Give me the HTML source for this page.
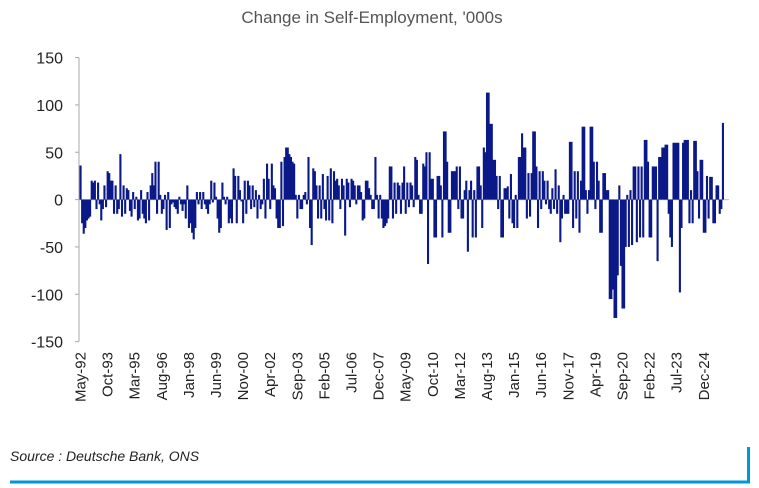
<!DOCTYPE html>
<html><head><meta charset="utf-8"><style>
html,body{margin:0;padding:0;background:#fff;}
body{width:759px;height:488px;overflow:hidden;position:relative;font-family:"Liberation Sans",Arial,sans-serif;}
</style></head><body>
<svg id="chart" width="759" height="488" xmlns="http://www.w3.org/2000/svg" style="position:absolute;left:0;top:0">
<text x="372" y="23" text-anchor="middle" font-family="Liberation Sans, sans-serif" font-size="17" fill="#555">Change in Self-Employment, '000s</text>
<g id="yaxis"></g>
<g id="bars"></g>
<g id="xaxis"></g>
<text x="10" y="461" font-family="Liberation Sans, sans-serif" font-size="14" font-style="italic" fill="#222">Source : Deutsche Bank, ONS</text>
<line x1="10" y1="482" x2="750" y2="482" stroke="#0096db" stroke-width="3"/>
<line x1="748.5" y1="447" x2="748.5" y2="483" stroke="#0096db" stroke-width="3"/>
</svg>
<script>
const values = [
36,-25,-36,-30,-22, -20,-18,20,18,20, -10,18,-5,-22,-10, 15,-8,30,28,20, 20,-15,15,-15,-10,
48,-18,15,-15,12, 10,-12,-18,8,-10, 3,-22,-20,10,-15, -20,-25,8,-22,15, 28,15,40,-15,40,
5,-15,-10,5,-32, 8,-30,-5,-3,-8, -10,-15,3,-5,-12, -5,-20,15,-30,-25, -35,-42,-30,8,-5,
8,-10,8,-5,-10, -15,-5,20,-3,18, 3,-20,-35,-30,18, 3,-5,3,-25,-20, -25,33,25,-25,25,
10,-2,-25,20,-15, 20,15,-10,15,-8, 10,-20,5,-10,-5, 22,-20,38,22,-10, 38,15,12,-20,-30,
-30,40,-28,45,55, 55,48,45,40,38, 5,-20,5,-10,-10, 5,8,-5,45,-30, -48,33,30,15,-20,
15,-20,27,-10,-22, 25,-22,33,-25,30, 20,22,15,-10,22, 15,-38,22,18,-8, 22,20,15,-5,15,
15,8,-22,-20,20, 20,12,5,-10,-10, 45,5,-20,5,-20, -30,-28,-25,-20,35, 35,-20,18,-15,18,
15,-15,18,35,-15, 18,-8,18,15,-8, 45,42,5,-15,-15, 38,35,50,-68,50, 22,22,-40,-40,25,
25,15,-40,72,72, 40,-35,-35,30,30, 30,35,-10,35,-20, -20,10,20,-55,10, 20,-40,10,-40,35,
35,15,-30,55,50, 113,113,80,80,42, 42,25,-10,25,-40, -40,12,12,14,-20, 27,-25,-30,5,-30,
45,45,70,55,55, -20,28,-18,28,72, 72,35,-30,30,-10, 30,20,-5,20,-10, -15,12,-10,32,-15,
15,-45,-20,5,-15, -15,-15,61,61,-30, 30,-20,30,-35,20, 77,77,10,-15,10, 77,77,40,-10,40,
20,-35,-35,28,28, 10,10,-105,-105,-95, -125,-125,-80,15,-70, -115,-115,-50,5,-50, 10,-48,35,35,-45,
35,-40,35,-40,63, 63,40,-40,-40,35, 35,35,-65,45,45, 55,55,58,58,-15, -40,-50,60,60,60,
60,-98,-30,60,63, 63,63,-25,10,-25, 62,62,30,-20,42, 42,-35,-35,25,-20, 24,24,-25,-25,15,
15,-15,-10,81
];
const yTicks = [150,100,50,0,-50,-100,-150];
const xLabels = ["May-92","Oct-93","Mar-95","Aug-96","Jan-98","Jun-99","Nov-00","Apr-02","Sep-03","Feb-05","Jul-06","Dec-07","May-09","Oct-10","Mar-12","Aug-13","Jan-15","Jun-16","Nov-17","Apr-19","Sep-20","Feb-22","Jul-23","Dec-24"];
const labelEvery = 17;

const NS="http://www.w3.org/2000/svg";
const step=1.594, x0=80.5;
function xPos(i){return x0+i*step;}
function yPos(v){return 199.6-v*0.947;}
function mk(tag,attrs,parent){const e=document.createElementNS(NS,tag);for(const k in attrs)e.setAttribute(k,attrs[k]);parent.appendChild(e);return e;}

const ya=document.getElementById('yaxis');
const axisLine=mk('line',{x1:79,y1:yPos(150),x2:79,y2:yPos(-150),stroke:'#aaa','stroke-width':1},ya);


yTicks.forEach(t=>{
  const tk=mk('line',{x1:75,y1:yPos(t),x2:79,y2:yPos(t),stroke:'#aaa','stroke-width':1},ya);
  
  
  const tx=mk('text',{x:63,y:yPos(t)+6,'text-anchor':'end','font-size':16,'font-family':'Liberation Sans, sans-serif',fill:'#222'},ya);
  
  
  tx.textContent=t;
});

const bg=document.getElementById('bars');
const zl=mk('line',{x1:79,y1:yPos(0),x2:729,y2:yPos(0),stroke:'#c8c8d0','stroke-width':1.2},bg);


values.forEach((v,i)=>{
  const y=v>=0?yPos(v):yPos(0);
  const h=Math.abs(yPos(v)-yPos(0));
  const r=mk('rect',{x:xPos(i)-1.0,y:y,width:2.1,height:Math.max(h,0.5),fill:'#0a1888'},bg);
  
  
});

const xa=document.getElementById('xaxis');
xLabels.forEach((l,k)=>{
  const x=xPos(k*labelEvery)+5;
  const t=mk('text',{x:0,y:0,'text-anchor':'end','font-size':15,'font-family':'Liberation Sans, sans-serif',fill:'#222',transform:'translate('+x+',352) rotate(-90)'},xa);
  
  
  t.textContent=l;
});
</script>
</body></html>
